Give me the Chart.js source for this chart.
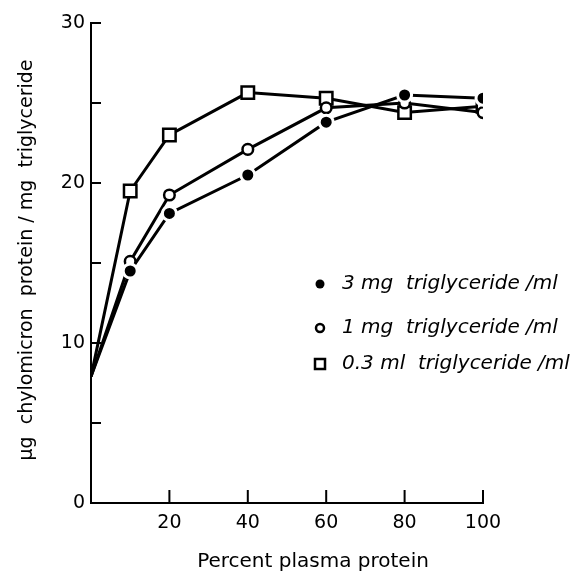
<!DOCTYPE html>
<html>
<head>
<meta charset="utf-8">
<script src="https://cdn.jsdelivr.net/npm/chart.js@4.4.0/dist/chart.umd.min.js"></script>
<style>
body { margin: 0; background: #fff; }
canvas { display: block; }
</style>
</head>
<body>
<canvas id="myChart" width="581" height="575"></canvas>
<script>
// percent plasma protein
const plasmaPct = [0, 10, 20, 40, 60, 80, 100];
// ug chylomicron protein / mg triglyceride
const tg3mg = [7.9, 14.5, 18.1, 20.5, 23.8, 25.5, 25.3];
const tg1mg = [7.9, 15.1, 19.25, 22.1, 24.7, 25.0, 24.4];
const tg03ml = [7.9, 19.5, 23.0, 25.65, 25.3, 24.4, 24.8];

const legendLabels = ['3 mg  triglyceride /ml', '1 mg  triglyceride /ml', '0.3 ml  triglyceride /ml'];
const xTitle = 'Percent plasma protein';
const yTitle = '\u00b5g  chylomicron  protein / mg  triglyceride';

const FONT = '"DejaVu Sans", sans-serif';

function toPoints(ys) {
  return plasmaPct.map((x, i) => ({ x: x, y: ys[i] }));
}
function noFirst(r) {
  return ctx => ctx.dataIndex === 0 ? 0 : r;
}

// inward ticks, axis titles and the legend inside the plot
const extras = {
  id: 'extras',
  afterDraw(chart) {
    const ctx = chart.ctx;
    const xs = chart.scales.x, ys = chart.scales.y;
    const a = chart.chartArea;
    ctx.save();
    ctx.strokeStyle = '#000';
    ctx.lineWidth = 2;
    ctx.beginPath();
    [5, 10, 15, 20, 25, 30].forEach(v => {
      const py = ys.getPixelForValue(v);
      ctx.moveTo(a.left, py);
      ctx.lineTo(a.left + 10, py);
    });
    [20, 40, 60, 80, 100].forEach(v => {
      const px = xs.getPixelForValue(v);
      ctx.moveTo(px, a.bottom);
      ctx.lineTo(px, a.bottom - 13);
    });
    ctx.stroke();

    ctx.fillStyle = '#000';
    ctx.font = '20px ' + FONT;
    ctx.textAlign = 'center';
    ctx.textBaseline = 'middle';
    ctx.fillText(xTitle, 313, 562);

    ctx.save();
    ctx.translate(27, 260);
    ctx.rotate(-Math.PI / 2);
    ctx.font = '19px ' + FONT;
    ctx.fillText(yTitle, 0, 0);
    ctx.restore();

    // legend
    const lx = 320, rows = [284, 328, 364];
    ctx.lineWidth = 2.5;
    ctx.beginPath();
    ctx.arc(lx, rows[0], 4.5, 0, Math.PI * 2);
    ctx.fill();
    ctx.beginPath();
    ctx.arc(lx, rows[1], 4, 0, Math.PI * 2);
    ctx.stroke();
    ctx.strokeRect(lx - 5, rows[2] - 5, 10, 10);

    ctx.font = 'italic 20px ' + FONT;
    ctx.textAlign = 'left';
    legendLabels.forEach((t, i) => ctx.fillText(t, 342, rows[i]));
    ctx.restore();
  }
};

const data = {
  datasets: [
    {
      label: legendLabels[0],
      data: toPoints(tg3mg),
      borderColor: '#000',
      borderWidth: 3,
      pointStyle: 'circle',
      pointRadius: noFirst(7),
      pointBackgroundColor: '#000',
      pointBorderColor: '#fff',
      pointBorderWidth: 3
    },
    {
      label: legendLabels[1],
      data: toPoints(tg1mg),
      borderColor: '#000',
      borderWidth: 3,
      pointStyle: 'circle',
      pointRadius: noFirst(5.3),
      pointBackgroundColor: '#fff',
      pointBorderColor: '#000',
      pointBorderWidth: 2.5
    },
    {
      label: legendLabels[2],
      data: toPoints(tg03ml),
      borderColor: '#000',
      borderWidth: 3,
      pointStyle: 'rect',
      pointRadius: noFirst(8.8),
      pointBackgroundColor: '#fff',
      pointBorderColor: '#000',
      pointBorderWidth: 2.5
    }
  ]
};

const config = {
  type: 'line',
  data: data,
  options: {
    responsive: false,
    animation: false,
    layout: { padding: { left: 0, right: 98, top: 23, bottom: 0 } },
    plugins: {
      legend: { display: false },
      tooltip: { enabled: false }
    },
    scales: {
      x: {
        type: 'linear',
        min: 0,
        max: 100,
        grid: { display: false, drawTicks: false },
        border: { display: true, color: '#000', width: 2 },
        ticks: {
          stepSize: 20,
          padding: 9,
          color: '#000',
          font: { family: FONT, size: 19 },
          callback: v => v === 0 ? '' : v
        },
        afterFit: s => { s.height = 72; }
      },
      y: {
        min: 0,
        max: 30,
        grid: { display: false, drawTicks: false },
        border: { display: true, color: '#000', width: 2 },
        ticks: {
          stepSize: 5,
          padding: 6,
          color: '#000',
          font: { family: FONT, size: 19 },
          callback: v => v % 10 === 0 ? v : ''
        },
        afterFit: s => { s.width = 91; }
      }
    }
  },
  plugins: [extras]
};

const myChart = new Chart(document.getElementById('myChart'), config);
</script>
</body>
</html>
